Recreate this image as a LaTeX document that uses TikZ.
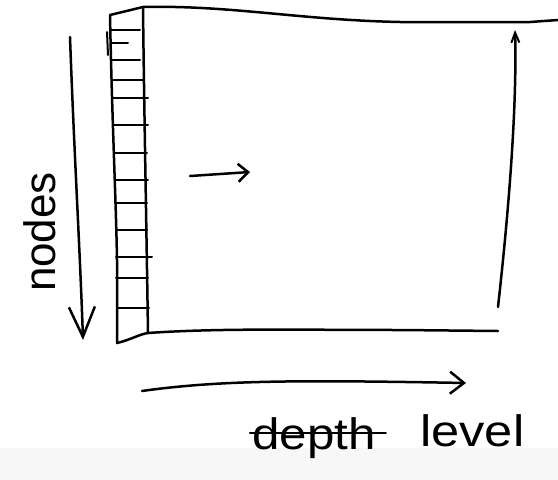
\documentclass[tikz,border=0pt]{standalone}
\usepackage{fontspec}
\setmainfont{Liberation Sans}
\usetikzlibrary{arrows.meta}
\begin{document}
\begin{tikzpicture}[x=1pt,y=-1pt,
  ink/.style={line width=2.5pt,line cap=round,line join=round,black},
  thin/.style={line width=2pt,line cap=round,black},
  hand/.style={inner sep=0pt,font=\fontsize{44}{44}\selectfont},
  bigbarb/.style={-{Straight Barb[length=30pt,width=26pt,line width=2.5pt]}},
  midbarb/.style={-{Straight Barb[length=10pt,width=18pt,line width=2.5pt]}},
  smallbarb/.style={-{Straight Barb[length=10pt,width=8pt,line width=2pt]}}]
\useasboundingbox (0,0) rectangle (558,480);
\fill[gray!6] (0,448) rectangle (558,480);
% corners
\coordinate (tl) at (110,15);
\coordinate (tr) at (143,7);
\coordinate (bl) at (117,343);
\coordinate (br) at (148,333);
% strip outline
\draw[ink] (tl) -- (tr);
\draw[ink] (tl) .. controls (112,120) and (116,200) .. (117,260) -- (bl);
\draw[ink] (tr) .. controls (144,100) and (146,200) .. (br);
\draw[ink] (bl) .. controls (130,340) and (140,334) .. (br);
% page top and bottom
\draw[ink] (tr) .. controls (230,5) and (300,20) .. (400,22) -- (530,22) -- (558,20);
\draw[ink] (br) .. controls (220,328) and (300,330) .. (400,330) -- (498,331);
% strip dividers
\foreach \y/\xl/\xr in {30/110/140, 43/111/128, 60/111/140, 80/112/144, 98/112/148, 125/113/148, 153/114/147, 180/115/148, 203/115/147, 230/116/147, 257/116/152, 278/116/148, 308/117/149}
  \draw[thin] (\xl,\y) -- (\xr,\y);
\draw[thin] (107,32) -- (108,55);
% arrows
\coordinate (na) at (70,37);
\coordinate (nb) at (83,340);
\draw[ink,bigbarb] (na) .. controls (74,150) and (80,250) .. (nb);
\coordinate (ma) at (190,176);
\coordinate (mb) at (250,172);
\draw[ink,midbarb] (ma) -- (mb);
\coordinate (ra) at (498,307);
\coordinate (rb) at (515,30);
\draw[ink,smallbarb] (ra) .. controls (510,200) and (517,100) .. (rb);
\coordinate (da) at (142,391);
\coordinate (db) at (466,383);
\draw[ink,-{Straight Barb[length=14pt,width=22pt,line width=2.5pt]}] (da) .. controls (220,380) and (300,380) .. (db);
% labels
\node[hand,rotate=90] (nodes) at (40,232) {nodes};
\node[hand,anchor=base west,xscale=1.12] (depth) at (252,449) {depth};
\draw[ink] ([xshift=-2pt]depth.west |- 0,433) -- ([xshift=10pt]depth.east |- 0,433);
\node[hand,anchor=base west,xscale=1.15] (level) at (420,446) {level};
\end{tikzpicture}
\end{document}
